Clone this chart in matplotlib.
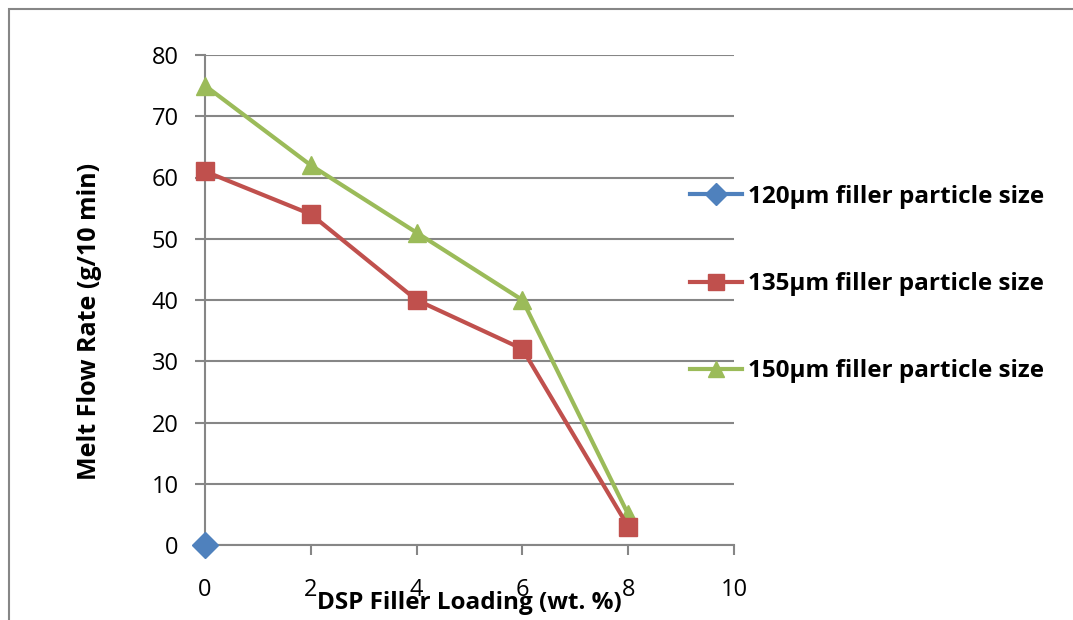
import matplotlib
matplotlib.use("Agg")
import matplotlib.pyplot as plt
from matplotlib.patches import Rectangle

# data
loading = [0, 2, 4, 6, 8]
mfr_120 = [0]
mfr_135 = [61, 54, 40, 32, 3]
mfr_150 = [75, 62, 51, 40, 5]
labels = ["120µm filler particle size",
          "135µm filler particle size",
          "150µm filler particle size"]

plt.rcParams["font.family"] = ["Open Sans", "DejaVu Sans"]

fig = plt.figure(figsize=(10.73, 6.20), dpi=100)
ax = fig.add_axes([205 / 1073, 1 - 545 / 620, (734 - 205) / 1073, (545 - 55) / 620])

grey = "#868686"
ax.plot(loading[:len(mfr_120)], mfr_120, color="#4F81BD", lw=3, marker="D",
        ms=13, label=labels[0], clip_on=False, zorder=5)
ax.plot(loading, mfr_135, color="#C0504D", lw=3, marker="s",
        ms=13, label=labels[1], clip_on=False, zorder=4)
ax.plot(loading, mfr_150, color="#9BBB59", lw=3, marker="^",
        ms=13, label=labels[2], clip_on=False, zorder=3)

ax.set_xlim(0, 10)
ax.set_ylim(0, 80)
ax.set_xticks(range(0, 11, 2))
ax.set_yticks(range(0, 81, 10))
ax.yaxis.grid(True, color=grey, lw=1.5)
ax.set_axisbelow(True)
for s in ["top", "right"]:
    ax.spines[s].set_visible(False)
for s in ["left", "bottom"]:
    ax.spines[s].set_color(grey)
    ax.spines[s].set_linewidth(1.5)
ax.tick_params(axis="y", length=7, width=1.5, color=grey, labelsize=17, pad=12)
ax.tick_params(axis="x", length=7, width=1.5, color=grey, labelsize=17, pad=17)

fig.text(90 / 1073, 1 - 321 / 620, "Melt Flow Rate (g/10 min)", rotation=90,
         ha="center", va="center", fontsize=18, fontweight="bold")
fig.text(469 / 1073, 1 - 603 / 620, "DSP Filler Loading (wt. %)",
         ha="center", va="center", fontsize=17.5, fontweight="bold")

fig.legend(loc="upper left", bbox_to_anchor=(690 / 1073, 1 - 185 / 620),
           frameon=False, prop={"size": 17.5, "weight": "bold"},
           handlelength=2.14, handletextpad=0.25, labelspacing=2.6,
           markerscale=0.85, borderaxespad=0, borderpad=0)

# chart frame (only left and top edges fall inside the image)
fig.patches.append(Rectangle((9 / 1073, -0.1), 1.2, 1.1 - 9 / 620,
                             transform=fig.transFigure, fill=False,
                             edgecolor=grey, lw=1.5))

fig.savefig("out.png", dpi=100)
